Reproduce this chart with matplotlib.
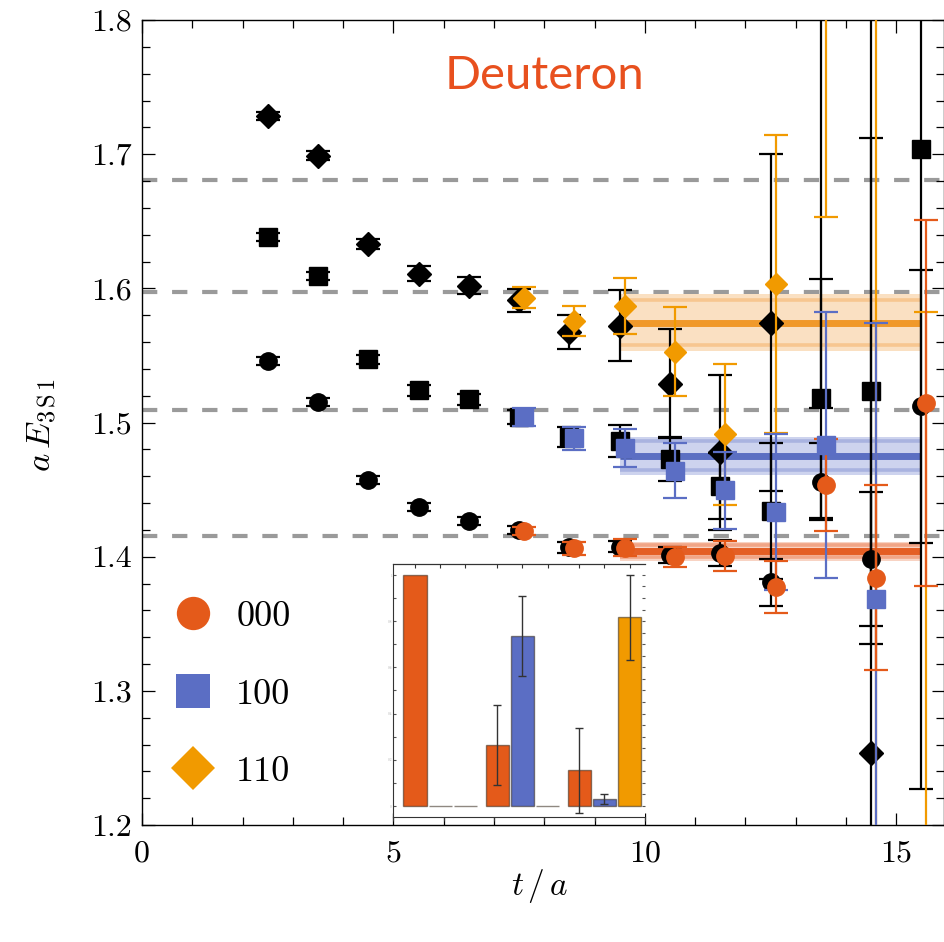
import numpy as np
import matplotlib.pyplot as plt
from matplotlib.lines import Line2D

plt.rcParams['font.family'] = ['cmr10', 'DejaVu Serif']
plt.rcParams['mathtext.fontset'] = 'cm'
plt.rcParams['axes.formatter.use_mathtext'] = True

# ---- dados: pontos pretos (t = 2.5 ... 15.5)
t_preto = [2.5, 3.5, 4.5, 5.5, 6.5, 7.5, 8.5, 9.5, 10.5, 11.5, 12.5, 13.5, 14.5, 15.5]
y_circ_preto = [1.546, 1.5155, 1.457, 1.437, 1.4266, 1.420, 1.407, 1.4075, 1.401, 1.4027,
                1.381, 1.456, 1.398, 1.512]
e_circ_preto = [0.003, 0.003, 0.003, 0.003, 0.003, 0.003, 0.004, 0.004, 0.006, 0.010,
                0.0175, 0.0287, 0.05, 0.1016]
y_quad_preto = [1.6385, 1.6094, 1.547, 1.524, 1.5173, 1.504, 1.4894, 1.486, 1.4728, 1.4527,
                1.434, 1.518, 1.5237, 1.7036]
e_quad_preto = [0.003, 0.003, 0.0036, 0.004, 0.004, 0.005, 0.0075, 0.012, 0.0165, 0.0245,
                0.051, 0.089, 0.1886, 0.4766]
y_losa_preto = [1.7284, 1.699, 1.633, 1.611, 1.602, 1.591, 1.5675, 1.572, 1.529, 1.4778,
                1.5745, 1.95, 1.2534, np.nan]
e_losa_preto = [0.003, 0.003, 0.004, 0.0056, 0.0062, 0.0085, 0.0125, 0.0265, 0.0405, 0.0578,
                0.1255, 0.4394, 0.62, np.nan]

# ---- pontos coloridos (t = 7.6 ... 15.6)
t_cor = [7.6, 8.6, 9.6, 10.6, 11.6, 12.6, 13.6, 14.6, 15.6]
y_000 = [1.4191, 1.4062, 1.4067, 1.3995, 1.4005, 1.3776, 1.4534, 1.3843, 1.5148]
e_000 = [0.003, 0.005, 0.0065, 0.0075, 0.0115, 0.0195, 0.034, 0.069, 0.1364]
y_100 = [1.5043, 1.4882, 1.4808, 1.4639, 1.4495, 1.4331, 1.4832, 1.3682, np.nan]
e_100 = [0.0067, 0.0085, 0.014, 0.0205, 0.0286, 0.058, 0.099, 0.206, np.nan]
y_110 = [1.593, 1.5757, 1.5868, 1.5528, 1.4912, 1.6032, 1.95, 1.1, 1.0]
e_110 = [0.0078, 0.011, 0.021, 0.0332, 0.0527, 0.111, 0.297, 0.9, 0.5826]

# ---- niveis (linhas tracejadas) e ajustes
niveis = [1.4152, 1.5093, 1.5975, 1.6807]
fit_centro = [1.4041, 1.4753, 1.5745]
fit_in = [0.0045, 0.0107, 0.0170]
fit_out = [0.0072, 0.0142, 0.0210]
fit_t = (9.5, 15.5)

# ---- inset: pesos (grupo x momento)
pesos = [[1.0, 0.0, 0.0], [0.264, 0.736, 0.0], [0.154, 0.029, 0.817]]
pesos_err = [[0.0, 0.0, 0.0], [0.173, 0.172, 0.0], [0.185, 0.022, 0.184]]

rotulos = ['000', '100', '110']
c_red, c_blue, c_orange = '#E45A1A', '#5B6EC4', '#F19A00'
cores = [c_red, c_blue, c_orange]
band_light = ['#F8D3C3', '#CDD3EE', '#FAE0C2']
band_mid = ['#F1A586', '#A9B3E0', '#F7C690']
band_strong = ['#E45E24', '#5B6FC2', '#F0992A']

fig = plt.figure(figsize=(9.45, 9.42), dpi=100)
ax = fig.add_axes([142/945, 1-825/942, 802/945, 805/942])

for y in niveis:
    ax.axhline(y, color='#9a9a9a', lw=3.0, dashes=(3.67, 3.55), zorder=1)

for i in range(3):
    c = fit_centro[i]
    ax.fill_between(fit_t, c - fit_out[i], c + fit_out[i], color=band_light[i], lw=0, zorder=2)
    ax.hlines([c - fit_in[i], c + fit_in[i]], *fit_t, color=band_mid[i], lw=2.6, zorder=2)
    ax.hlines(c, *fit_t, color=band_strong[i], lw=5.0, zorder=2)

# caps: mew nao pode ir junto, senao os caps somem
kw = dict(ls='none', capsize=8.3, elinewidth=1.6, capthick=1.6)
ax.errorbar(t_preto, y_losa_preto, e_losa_preto, fmt='D', ms=11.8, color='k', zorder=3, **kw)
ax.errorbar(t_preto, y_quad_preto, e_quad_preto, fmt='s', ms=12.9, color='k', zorder=3, **kw)
ax.errorbar(t_preto, y_circ_preto, e_circ_preto, fmt='o', ms=12.5, color='k', zorder=3, **kw)

ax.errorbar(t_cor, y_110, e_110, fmt='D', ms=11.3, color=c_orange, zorder=4, **kw)
ax.errorbar(t_cor, y_100, e_100, fmt='s', ms=12.9, color=c_blue, zorder=4, **kw)
ax.errorbar(t_cor, y_000, e_000, fmt='o', ms=12.5, color=c_red, zorder=4, **kw)

ax.set_xlim(0, 15.95)
ax.set_ylim(1.2, 1.8)
ax.set_xticks([0, 5, 10, 15])
ax.set_xticks(np.arange(0, 16, 1), minor=True)
ax.set_yticks(np.arange(1.2, 1.81, 0.1))
ax.set_yticks(np.arange(1.2, 1.8, 0.02), minor=True)
ax.set_xticklabels(['0', '5', '10', '15'])
ax.set_yticklabels(['%.1f' % v for v in np.arange(1.2, 1.81, 0.1)])
ax.tick_params(which='both', direction='in', top=True, right=True, width=0.9, labelsize=23)
ax.tick_params(which='major', length=9)
ax.tick_params(which='minor', length=5.5)
ax.tick_params(axis='x', pad=11)
ax.tick_params(axis='y', pad=7)
for s in ax.spines.values():
    s.set_linewidth(1.0)

ax.set_ylabel(r'$a\,E_{3\,\mathrm{S}\,1}$', fontsize=25)
ax.yaxis.set_label_coords(-0.103, 0.497)
ax.set_xlabel(r'$t\,/\,a$', fontsize=24)
ax.xaxis.set_label_coords(0.496, -0.052)

ax.text(0.502, 0.914, 'Deuteron', transform=ax.transAxes, color='#E8501E', fontsize=34,
        family='Lato', ha='center', va='baseline')

handles = [Line2D([], [], ls='none', marker='o', ms=24, mew=0, color=c_red),
           Line2D([], [], ls='none', marker='s', ms=24, mew=0, color=c_blue),
           Line2D([], [], ls='none', marker='D', ms=22, mew=0, color=c_orange)]
ax.legend(handles, rotulos, loc='lower left', bbox_to_anchor=(0.041, 0.046), frameon=False,
          fontsize=26, handlelength=1.0, handletextpad=0.7, labelspacing=1.25,
          borderpad=0, borderaxespad=0)

# ---- inset
axi = ax.inset_axes([5, 1.2063, 5, 0.188], transform=ax.transData)
passo, gap = 1.0, 3.26
for g, grupo in enumerate(pesos):
    for k, v in enumerate(grupo):
        xpos = g * gap + k * passo
        axi.bar(xpos, v, width=0.92, color=cores[k], edgecolor=(0.2, 0.15, 0.1, 0.55), lw=1.0)
        if pesos_err[g][k] > 0:
            axi.errorbar(xpos, v, pesos_err[g][k], color='#333333', lw=1.0, capsize=3,
                         capthick=1.0)
xlo, xhi = -0.855, 9.12
axi.set_xlim(xlo, xhi)
axi.set_ylim(-0.046, 1.046)
axi.spines['right'].set_visible(False)
for s in ['left', 'top', 'bottom']:
    axi.spines[s].set_linewidth(0.8)
    axi.spines[s].set_color('#333333')
axi.set_xticks(np.linspace(xlo, xhi, 6))
axi.set_xticklabels([])
axi.tick_params(axis='x', direction='out', length=3, width=0.8, color='#333333')
sec = axi.secondary_xaxis('top')
sec.set_xticks([g * gap + k * passo for g in range(3) for k in range(3)])
sec.set_xticklabels([])
sec.tick_params(direction='in', length=3, width=0.8, color='#333333')
sec.spines['top'].set_linewidth(0.8)
axi.set_yticks(np.arange(0, 1.01, 0.2))
axi.set_yticks(np.arange(0, 1.01, 0.1), minor=True)
axi.set_yticklabels(['0', '0.2', '0.4', '0.6', '0.8', '1'])
axi.tick_params(axis='y', which='both', direction='in', length=2, width=0.8, color='#555555',
                labelsize=2.5, labelcolor='#aaaaaa', pad=1)
secy = axi.secondary_yaxis('right')
secy.set_yticks(np.arange(0, 1.01, 0.05))
secy.set_yticklabels([])
secy.tick_params(direction='in', length=2, width=0.8, color='#555555')
secy.spines['right'].set_visible(False)

fig.savefig('out.png', dpi=100)
